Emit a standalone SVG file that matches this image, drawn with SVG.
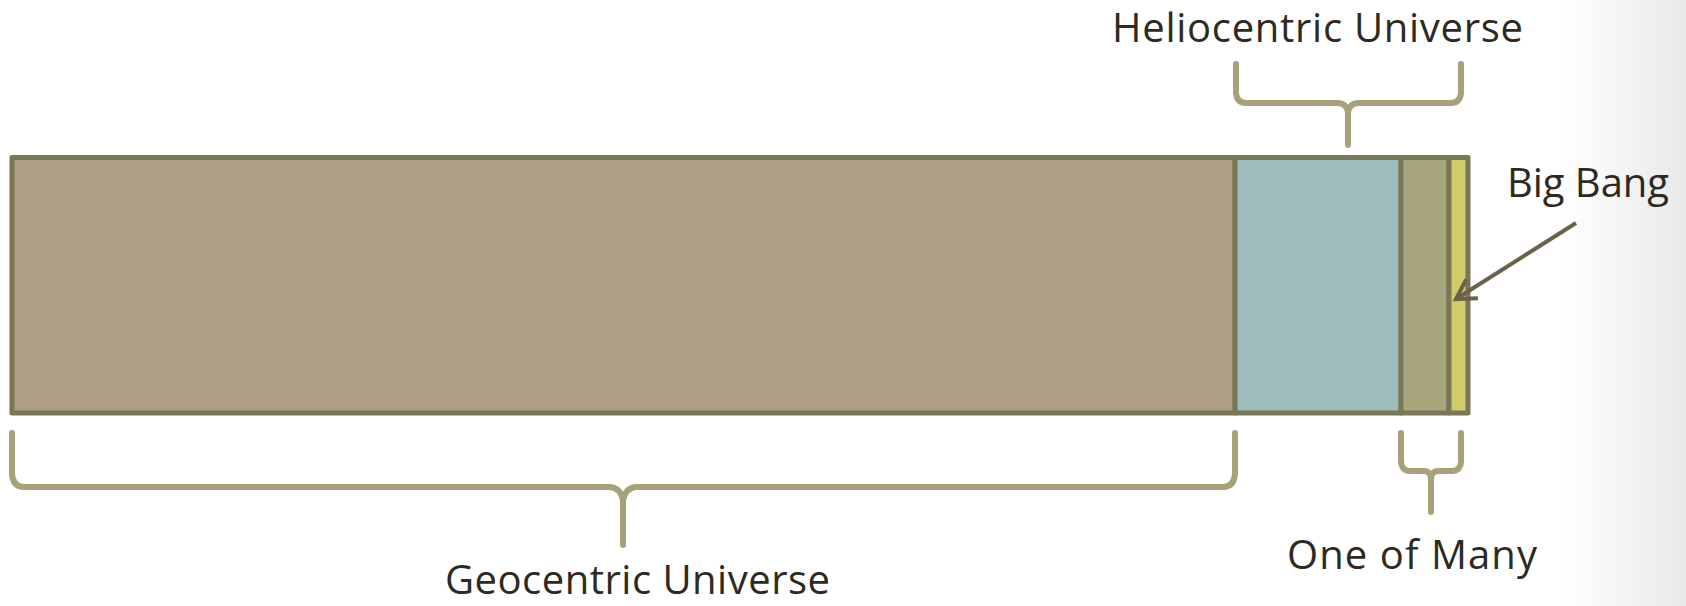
<svg xmlns="http://www.w3.org/2000/svg" width="1686" height="606" viewBox="0 0 1686 606">
<defs>
<linearGradient id="bg" x1="0" y1="0" x2="1" y2="0">
<stop offset="0" stop-color="#ffffff"/>
<stop offset="1" stop-color="#e9e9e9"/>
</linearGradient>
<marker id="arr" markerUnits="userSpaceOnUse" markerWidth="30" markerHeight="30" refX="0" refY="0" viewBox="-22 -15 30 30" orient="auto" overflow="visible">
<path d="M-19,-11 L0,0 L-19,11" fill="none" stroke="#6b624b" stroke-width="4" stroke-linejoin="miter"/>
</marker>
<style>
.seg{stroke:#7a7756;stroke-width:5;stroke-linejoin:round}
.brace{fill:none;stroke:#a7a278;stroke-width:6;stroke-linecap:round;stroke-linejoin:round}
.lbl{font-family:"Open Sans","Noto Sans",sans-serif;font-size:40px;fill:#2e2a22}
</style>
</defs>
<rect x="0" y="0" width="1686" height="606" fill="#ffffff"/>
<rect x="1560" y="0" width="126" height="606" fill="url(#bg)"/>
<g id="geocentric">
<rect class="seg" x="12" y="157.5" width="1223" height="255.5" fill="#af9e87"/>
</g>
<g id="heliocentric">
<rect class="seg" x="1235" y="157.5" width="166" height="255.5" fill="#9dbcbd"/>
</g>
<g id="one-of-many">
<rect class="seg" x="1401" y="157.5" width="48" height="255.5" fill="#a9a67e"/>
</g>
<g id="big-bang">
<rect class="seg" x="1449" y="157.5" width="19" height="255.5" fill="#d0cb6b"/>
</g>
<g id="braces">
<path class="brace" d="M12,433 L12,474 Q13,487 24,487 L609,487 Q620,487 623,500 L623,545"/>
<path class="brace" d="M1235,433 L1235,474 Q1234,487 1223,487 L637,487 Q626,487 623,500"/>
<path class="brace" d="M1236,64 L1236,93 Q1237,103 1246,103 L1338,103 Q1346,103 1348,112 L1348,145"/>
<path class="brace" d="M1461,64 L1461,93 Q1460,103 1451,103 L1358,103 Q1350,103 1348,112"/>
<path class="brace" d="M1401,433 L1401,462 Q1402,471 1410,471 L1424,471 Q1430,471 1431,478 L1431,512"/>
<path class="brace" d="M1461,433 L1461,462 Q1460,471 1452,471 L1438,471 Q1432,471 1431,478"/>
</g>
<g id="connectors">
<line x1="1576" y1="223" x2="1456" y2="299" stroke="#6b624b" stroke-width="4" marker-end="url(#arr)"/>
</g>
<g id="labels">
<text class="lbl" x="1112" y="42" textLength="411" lengthAdjust="spacing">Heliocentric Universe</text>
<text class="lbl" x="1507" y="197" textLength="162" lengthAdjust="spacing">Big Bang</text>
<text class="lbl" x="1287" y="569" textLength="250" lengthAdjust="spacing">One of Many</text>
<text class="lbl" x="445" y="594" textLength="385" lengthAdjust="spacing">Geocentric Universe</text>
</g>
</svg>
